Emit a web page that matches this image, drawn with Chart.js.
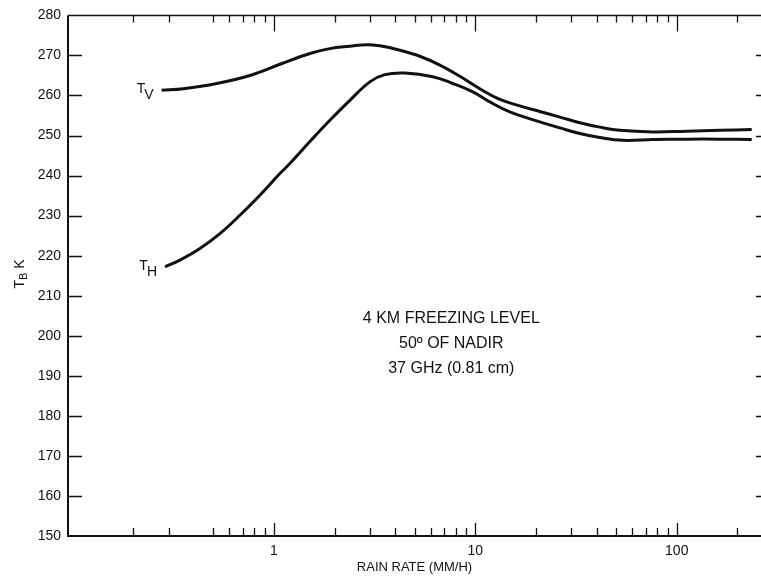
<!DOCTYPE html>
<html>
<head>
<meta charset="utf-8">
<script src="https://cdn.jsdelivr.net/npm/chart.js@4.4.0/dist/chart.umd.min.js"></script>
<style>
  html, body { margin: 0; padding: 0; background: #fff; }
</style>
</head>
<body>
<canvas id="myChart" width="761" height="576"></canvas>
<script>
// Rain rate (mm/h) and brightness temperature (K)
var rateV = [0.277, 0.355, 0.52, 0.76, 1.071, 1.509, 1.896, 2.383, 2.884, 3.357, 4.22, 5.3, 6.67, 8.38,
             10.53, 13.24, 16.63, 20.9, 26.3, 33.0, 41.5, 52.1, 76.0, 112, 163.5, 235.6];
var tbV   = [261.3, 261.7, 263.0, 265.0, 267.8, 270.5, 271.7, 272.3, 272.7, 272.4, 271.3, 269.8, 267.6, 264.8,
             261.7, 259.0, 257.4, 256.0, 254.6, 253.2, 252.1, 251.3, 250.9, 251.1, 251.3, 251.5];

var rateH = [0.288, 0.3415, 0.4295, 0.5395, 0.678, 0.852, 1.071, 1.2, 1.509, 1.896, 2.383, 2.995, 3.556, 4.467,
             6.15, 7.73, 9.72, 11.8, 14.83, 20.9, 26.3, 33.0, 41.5, 54.0, 76.0, 112, 163.5, 235.6];
var tbH   = [217.2, 218.9, 221.8, 225.5, 230.1, 235.1, 240.5, 243.0, 248.5, 253.8, 258.8, 263.4, 265.2, 265.6,
             264.7, 263.0, 260.9, 258.4, 255.9, 253.4, 251.9, 250.5, 249.5, 248.8, 249.0, 249.1, 249.1, 249.0];

// tick marks along the log axis (the original has no 0.4 mark)
var xTicks = [0.2, 0.3, 0.5, 0.6, 0.7, 0.8, 0.9, 1, 2, 3, 4, 5, 6, 7, 8, 9, 10,
              20, 30, 40, 50, 60, 70, 80, 90, 100, 200];
var xLabels = [1, 10, 100];

var notes = ['4 KM FREEZING LEVEL', '50\u00BA OF NADIR', '37 GHz (0.81 cm)'];

var ink = '#111';
var font = '"Liberation Sans", Arial, Helvetica, sans-serif';

function pts(xs, ys) {
  return xs.map(function (x, i) { return { x: x, y: ys[i] }; });
}

// T with a subscript, anchored so it ends just left of the curve start
function subLabel(c, main, sub, px, py) {
  c.font = '14px ' + font;
  var wT = c.measureText(main).width;
  var wS = c.measureText(sub).width;
  var end = px - 8;
  c.fillText(main, end - wS - wT + 1, py + 3);
  c.fillText(sub, end - wS, py + 9);
}

var frame = {
  id: 'frame',
  afterDraw: function (chart) {
    var c = chart.ctx, a = chart.chartArea;
    var xs = chart.scales.x, ys = chart.scales.y;
    c.save();
    c.strokeStyle = ink;
    c.fillStyle = ink;

    // axes
    c.lineWidth = 2;
    c.beginPath();
    c.moveTo(a.left, a.top);
    c.lineTo(a.left, a.bottom);
    c.lineTo(a.right, a.bottom);
    c.stroke();
    c.lineWidth = 1.5;
    c.beginPath();
    c.moveTo(a.left, a.top);
    c.lineTo(a.right, a.top);
    c.stroke();

    // inward ticks
    c.lineWidth = 1.3;
    c.beginPath();
    xTicks.forEach(function (v) {
      var px = Math.round(xs.getPixelForValue(v)) + 0.5;
      var major = xLabels.indexOf(v) >= 0;
      c.moveTo(px, a.bottom);
      c.lineTo(px, a.bottom - (major ? 13 : 8));
      c.moveTo(px, a.top);
      c.lineTo(px, a.top + (major ? 16 : 7));
    });
    for (var v = 160; v < 280; v += 10) {
      var py = Math.round(ys.getPixelForValue(v)) + 0.5;
      c.moveTo(a.left, py);
      c.lineTo(a.left + 14, py);
      c.moveTo(a.right - 5, py);
      c.lineTo(a.right, py);
    }
    c.stroke();

    // y title  T_B K
    c.save();
    c.translate(24, 274);
    c.rotate(-Math.PI / 2);
    c.textBaseline = 'alphabetic';
    c.textAlign = 'left';
    c.font = '14px ' + font;
    var wT = c.measureText('T').width;
    c.font = '11px ' + font;
    var wB = c.measureText('B').width;
    c.font = '14px ' + font;
    var wK = c.measureText(' K').width;
    var x0 = -(wT + wB + wK) / 2;
    c.fillText('T', x0, 0);
    c.font = '11px ' + font;
    c.fillText('B', x0 + wT, 3);
    c.font = '14px ' + font;
    c.fillText(' K', x0 + wT + wB, 0);
    c.restore();

    // curve labels
    c.textAlign = 'left';
    c.textBaseline = 'alphabetic';
    subLabel(c, 'T', 'V', xs.getPixelForValue(rateV[0]), ys.getPixelForValue(tbV[0]));
    subLabel(c, 'T', 'H', xs.getPixelForValue(rateH[0]), ys.getPixelForValue(tbH[0]));

    // centred notes
    c.textAlign = 'center';
    c.font = '16px ' + font;
    var nx = xs.getPixelForValue(7.6);
    var ny = ys.getPixelForValue(203.2);
    notes.forEach(function (t, i) {
      c.fillText(t, nx, ny + i * 25);
    });
    c.restore();
  }
};

var ctx = document.getElementById('myChart').getContext('2d');
var myChart = new Chart(ctx, {
  type: 'line',
  data: {
    datasets: [{
      label: 'TV',
      data: pts(rateV, tbV),
      borderColor: ink,
      borderWidth: 3,
      pointRadius: 0,
      tension: 0.4,
      fill: false
    }, {
      label: 'TH',
      data: pts(rateH, tbH),
      borderColor: ink,
      borderWidth: 3,
      pointRadius: 0,
      tension: 0.4,
      fill: false
    }]
  },
  options: {
    responsive: false,
    animation: false,
    devicePixelRatio: 1,
    layout: { padding: { top: 15, right: 0, left: 0, bottom: 0 } },
    plugins: { legend: { display: false }, tooltip: { enabled: false } },
    scales: {
      x: {
        type: 'logarithmic',
        min: 0.095,
        max: 262,
        grid: { display: false, drawTicks: false },
        border: { display: false },
        afterBuildTicks: function (s) {
          s.ticks = xLabels.map(function (v) { return { value: v }; });
        },
        afterFit: function (s) { s.height = 40; },
        ticks: {
          autoSkip: false,
          maxRotation: 0,
          padding: 7,
          color: ink,
          font: { family: font, size: 14 },
          callback: function (v) { return String(v); }
        },
        title: {
          display: true,
          text: 'RAIN RATE (MM/H)',
          color: ink,
          font: { family: font, size: 13 },
          padding: { top: 0, bottom: 1 }
        }
      },
      y: {
        min: 150,
        max: 280,
        grid: { display: false, drawTicks: false },
        border: { display: false },
        afterFit: function (s) { s.width = 68; },
        ticks: {
          stepSize: 10,
          padding: 7,
          color: ink,
          font: { family: font, size: 14 }
        }
      }
    }
  },
  plugins: [frame]
});
</script>
</body>
</html>
